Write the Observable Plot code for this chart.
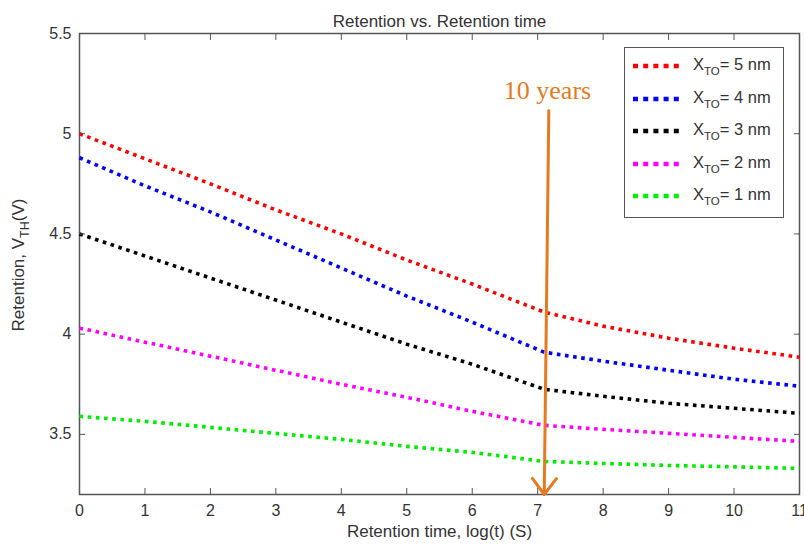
<!DOCTYPE html>
<html>
<head>
<meta charset="utf-8">
<script src="https://cdn.jsdelivr.net/npm/d3@7"></script>
<script src="https://cdn.jsdelivr.net/npm/@observablehq/plot@0.6"></script>
<style>
  html, body { margin: 0; padding: 0; background: #fff; }
  #wrap { position: relative; width: 804px; height: 546px; font-family: "Liberation Sans", Arial, sans-serif; }
  #legend { position: absolute; left: 624px; top: 47px; width: 158px; height: 169px; border: 1.5px solid #555; background: #fff; box-sizing: content-box; }
  .row { position: absolute; left: 0; height: 24px; display: flex; align-items: center; }
  .row svg { margin-left: 8px; }
  .row span { margin-left: 10px; font-size: 16.5px; color: #333; white-space: nowrap; }
  .row sub { font-size: 11.5px; vertical-align: -5px; }
</style>
</head>
<body>
<div id="wrap"><div id="chart"></div><div id="legend"></div></div>
<script>
// ---- data ----
const xs = [0, 1, 2, 3, 4, 5, 6, 7.1, 8, 9, 10, 11];
const series = ["XTO= 5 nm", "XTO= 4 nm", "XTO= 3 nm", "XTO= 2 nm", "XTO= 1 nm"];
const thickness = ["5", "4", "3", "2", "1"];
const colors = ["#ff0000", "#0000ff", "#000000", "#ff00ff", "#00ee00"];
const v5 = [5.00, 4.875, 4.75, 4.62, 4.50, 4.37, 4.25, 4.11, 4.04, 3.98, 3.93, 3.885];
const v4 = [4.88, 4.74, 4.61, 4.47, 4.33, 4.19, 4.06, 3.91, 3.865, 3.82, 3.775, 3.74];
const v3 = [4.50, 4.39, 4.28, 4.17, 4.06, 3.95, 3.85, 3.725, 3.69, 3.655, 3.63, 3.605];
const v2 = [4.03, 3.96, 3.89, 3.82, 3.75, 3.685, 3.615, 3.545, 3.525, 3.505, 3.485, 3.465];
const v1 = [3.59, 3.565, 3.535, 3.505, 3.475, 3.44, 3.41, 3.365, 3.355, 3.345, 3.338, 3.33];
const xTicks = [0, 1, 2, 3, 4, 5, 6, 7, 8, 9, 10, 11];
const yTicks = [3.5, 4, 4.5, 5, 5.5];
const title = "Retention vs. Retention time";
const xLabel = "Retention time, log(t) (S)";
const annotText = "10 years";
const arrowFrom = {x: 7.17, y: 5.115};
const arrowTo = {x: 7.1, y: 3.2};
const annotPos = {x: 7.15, y: 5.215};

const allValues = [v5, v4, v3, v2, v1];
const rows = [];
allValues.forEach((vals, i) => vals.forEach((v, j) => rows.push({series: series[i], x: xs[j], y: v})));

const textColor = "#333";
const chart = Plot.plot({
  width: 804,
  height: 546,
  marginLeft: 79,
  marginRight: 5,
  marginTop: 33,
  marginBottom: 52,
  style: {fontFamily: "Liberation Sans, Arial, sans-serif", color: textColor, background: "#fff"},
  x: {domain: [0, 11]},
  y: {domain: [3.2, 5.5]},
  color: {domain: series, range: colors},
  marks: [
    Plot.frame({stroke: "#555", strokeWidth: 1.5}),
    Plot.line(rows, {x: "x", y: "y", z: "series", stroke: "series", strokeWidth: 3.6, strokeDasharray: "3.6,4.6", strokeLinecap: "butt"}),
    Plot.axisX(xTicks, {anchor: "bottom", tickSize: 0, tickPadding: 10, fontSize: 16, label: null, color: textColor, tickFormat: d => String(d)}),
    Plot.axisX(xTicks, {anchor: "bottom", tickSize: -6, fill: null, label: null, stroke: "#555"}),
    Plot.axisX(xTicks, {anchor: "top", tickSize: -6, fill: null, label: null, stroke: "#555"}),
    Plot.axisY(yTicks, {anchor: "left", tickSize: 0, tickPadding: 8, fontSize: 16, label: null, color: textColor, tickFormat: d => String(d)}),
    Plot.axisY(yTicks, {anchor: "left", tickSize: -6, fill: null, label: null, stroke: "#555"}),
    Plot.axisY(yTicks, {anchor: "right", tickSize: -6, fill: null, label: null, stroke: "#555"}),
    Plot.arrow([{x1: arrowFrom.x, y1: arrowFrom.y, x2: arrowTo.x, y2: arrowTo.y}], {x1: "x1", y1: "y1", x2: "x2", y2: "y2", stroke: "#e57a1e", strokeWidth: 3, headLength: 10, headAngle: 74}),
    Plot.text([annotText], {x: annotPos.x, y: annotPos.y, text: d => d, fill: "#e57a1e", fontSize: 26, fontFamily: "Liberation Serif, Times New Roman, serif"}),
    Plot.text([title], {frameAnchor: "top", dy: -19, text: d => d, fontSize: 17, fill: textColor}),
    Plot.text([xLabel], {frameAnchor: "bottom", dy: 42, text: d => d, fontSize: 17, fill: textColor})
  ]
});
document.getElementById("chart").appendChild(chart);

// y-axis label with subscript
const svg = d3.select(chart);
const yl = svg.append("text")
  .attr("transform", "translate(24,265) rotate(-90)")
  .attr("text-anchor", "middle")
  .attr("fill", textColor)
  .attr("font-size", 17);
yl.append("tspan").text("Retention, V");
yl.append("tspan").attr("font-size", 12.5).attr("dy", 5).text("TH");
yl.append("tspan").attr("dy", -5).text("(V)");

// legend
const legend = document.getElementById("legend");
series.forEach((s, i) => {
  const row = document.createElement("div");
  row.className = "row";
  row.style.top = (6 + i * 32.5) + "px";
  row.innerHTML = `<svg width="50" height="10"><line x1="0" y1="5" x2="50" y2="5" stroke="${colors[i]}" stroke-width="4.5" stroke-dasharray="5,5.2"/></svg><span>X<sub>TO</sub>= ${thickness[i]} nm</span>`;
  legend.appendChild(row);
});
</script>
</body>
</html>
